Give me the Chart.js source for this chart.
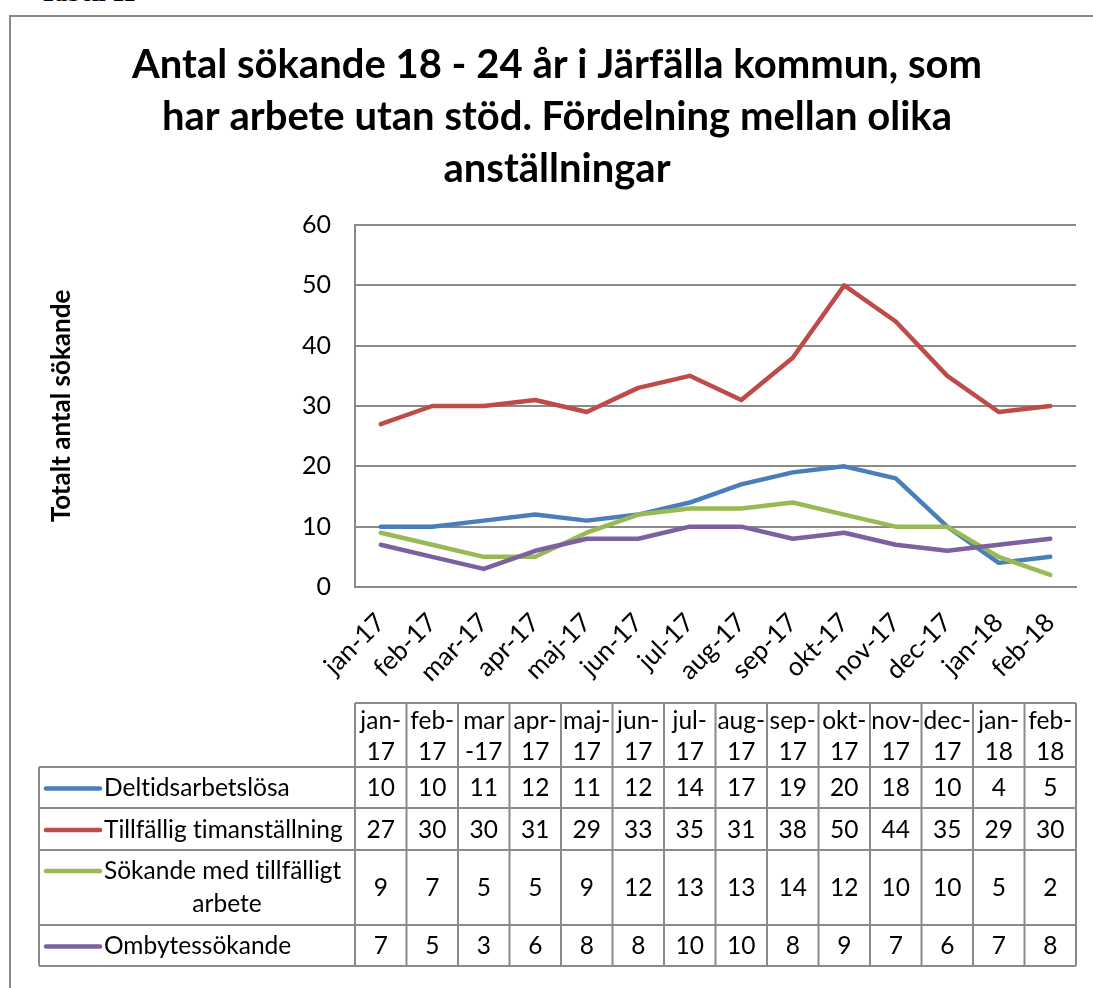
<!DOCTYPE html>
<html>
<head>
<meta charset="utf-8">
<script src="https://cdn.jsdelivr.net/npm/chart.js"></script>
<style>
body { margin:0; background:#fff; overflow:hidden; width:1093px; height:988px; position:relative; }
#tabell { position:absolute; left:40px; top:-21px; font: bold 25px "Liberation Serif"; color:#000; }
#frame { position:absolute; left:9px; top:15px; width:1200px; height:1100px; border:2px solid #8a8a8a; }
#wrap { position:absolute; left:0; top:0; width:1093px; height:988px; }
</style>
</head>
<body>
<div id="tabell">Tabell 11</div>
<div id="frame"></div>
<div id="wrap"><canvas id="lineChart"></canvas></div>
<script>
// data
var months = ["jan-17", "feb-17", "mar-17", "apr-17", "maj-17", "jun-17", "jul-17",
    "aug-17", "sep-17", "okt-17", "nov-17", "dec-17", "jan-18", "feb-18"];
// how the month names wrap in the data table header
var tableHeads = [["jan-", "17"], ["feb-", "17"], ["mar", "-17"], ["apr-", "17"], ["maj-", "17"],
    ["jun-", "17"], ["jul-", "17"], ["aug-", "17"], ["sep-", "17"], ["okt-", "17"],
    ["nov-", "17"], ["dec-", "17"], ["jan-", "18"], ["feb-", "18"]];
var deltid = [10, 10, 11, 12, 11, 12, 14, 17, 19, 20, 18, 10, 4, 5];
var timanst = [27, 30, 30, 31, 29, 33, 35, 31, 38, 50, 44, 35, 29, 30];
var tillfArbete = [9, 7, 5, 5, 9, 12, 13, 13, 14, 12, 10, 10, 5, 2];
var ombytes = [7, 5, 3, 6, 8, 8, 10, 10, 8, 9, 7, 6, 7, 8];
var seriesNames = [["Deltidsarbetslösa"], ["Tillfällig timanställning"],
    ["Sökande med tillfälligt", "arbete"], ["Ombytessökande"]];
var yTicks = [0, 10, 20, 30, 40, 50, 60];

var colors = ["#4a7ebb", "#be4b48", "#98b954", "#7d60a0"];
var font = "Lato";
var gridColor = "#8a8a8a";

var allSeries = [deltid, timanst, tillfArbete, ombytes];
var datasets = [];
for (var i = 0; i < allSeries.length; i++) {
    datasets.push({
        label: seriesNames[i].join(" "),
        data: allSeries[i],
        borderColor: colors[i],
        backgroundColor: colors[i],
        borderWidth: 4.5,
        pointRadius: 0,
        tension: 0,
        borderJoinStyle: "round",
        borderCapStyle: "round",
        order: allSeries.length - i
    });
}

// data table under the chart, columns follow the x scale
var tablePlugin = {
    id: "dataTable",
    afterDraw: function(chart) {
        var ctx = chart.ctx;
        var x = chart.scales.x;
        var step = x.getPixelForValue(1) - x.getPixelForValue(0);
        var left = x.getPixelForValue(0) - step / 2;
        var right = x.getPixelForValue(months.length - 1) + step / 2;
        var labelLeft = 39;
        var heights = [64, 41, 42, 75, 41];
        var tops = [703];
        for (var r = 0; r < heights.length; r++) tops.push(tops[r] + heights[r]);
        var bottom = tops[tops.length - 1];

        ctx.save();
        ctx.strokeStyle = gridColor;
        ctx.lineWidth = 2;
        ctx.beginPath();
        ctx.moveTo(left, tops[0]); ctx.lineTo(right, tops[0]);
        for (r = 1; r < tops.length; r++) {
            ctx.moveTo(labelLeft, tops[r]); ctx.lineTo(right, tops[r]);
        }
        ctx.moveTo(labelLeft, tops[1]); ctx.lineTo(labelLeft, bottom);
        for (var c = 0; c <= months.length; c++) {
            var bx = left + c * step;
            ctx.moveTo(bx, tops[0]); ctx.lineTo(bx, bottom);
        }
        ctx.stroke();

        ctx.fillStyle = "#000";
        ctx.font = "24.5px " + font;
        ctx.textRendering = "optimizeSpeed"; // no "ti" ligature
        ctx.textAlign = "center";
        ctx.textBaseline = "middle";
        for (c = 0; c < months.length; c++) {
            var cx = x.getPixelForValue(c);
            ctx.fillText(tableHeads[c][0], cx, tops[0] + 18);
            ctx.fillText(tableHeads[c][1], cx, tops[0] + 49);
        }
        for (var s = 0; s < allSeries.length; s++) {
            var rt = tops[s + 1], rh = heights[s + 1];
            var cy = rt + rh / 2 + 1;
            for (c = 0; c < months.length; c++) {
                ctx.textAlign = "center";
                ctx.fillText(String(allSeries[s][c]), x.getPixelForValue(c), cy);
            }
            var lines = seriesNames[s];
            var firstY = lines.length > 1 ? rt + 21 : cy;
            ctx.strokeStyle = colors[s];
            ctx.lineWidth = 4.5;
            ctx.lineCap = "round";
            ctx.beginPath();
            ctx.moveTo(46, firstY); ctx.lineTo(100, firstY);
            ctx.stroke();
            ctx.textAlign = "left";
            ctx.fillText(lines[0], 104, firstY);
            if (lines.length > 1) {
                ctx.textAlign = "center";
                ctx.fillText(lines[1], 227, firstY + 33);
            }
        }
        ctx.restore();
    }
};

var section = document.getElementById("lineChart");
var myChart = new Chart(section, {
    type: "line",
    data: {
        labels: months,
        datasets: datasets
    },
    options: {
        responsive: true,
        maintainAspectRatio: false,
        animation: false,
        layout: { padding: { left: 38, right: 17, top: 15, bottom: 0 } },
        plugins: {
            legend: { display: false },
            tooltip: { enabled: false },
            title: {
                display: true,
                text: ["Antal sökande 18 - 24 år i Järfälla kommun, som",
                    "har arbete utan stöd. Fördelning mellan olika",
                    "anställningar"],
                color: "#000",
                font: { family: font, size: 40, weight: "bold", lineHeight: 1.3 },
                padding: { top: 24, bottom: 30 }
            }
        },
        scales: {
            x: {
                offset: true,
                grid: { display: false, drawTicks: false },
                border: { display: true, color: gridColor, width: 2 },
                ticks: {
                    color: "#000",
                    font: { family: font, size: 26 },
                    minRotation: 45,
                    maxRotation: 45,
                    autoSkip: false,
                    padding: 20
                },
                afterFit: function(scale) { scale.height = 401; }
            },
            y: {
                min: 0,
                max: 60,
                afterBuildTicks: function(scale) {
                    scale.ticks = yTicks.map(function(v) { return { value: v }; });
                },
                grid: { color: gridColor, lineWidth: 2, drawTicks: false },
                border: { display: true, color: gridColor, width: 2 },
                ticks: {
                    color: "#000",
                    font: { family: font, size: 25 },
                    padding: 24
                },
                title: {
                    display: true,
                    text: "Totalt antal sökande",
                    color: "#000",
                    font: { family: font, size: 26, weight: "bold" },
                    padding: { top: 8, bottom: 0 }
                },
                afterFit: function(scale) { scale.width = 317; }
            }
        }
    },
    plugins: [tablePlugin]
});
</script>
</body>
</html>
